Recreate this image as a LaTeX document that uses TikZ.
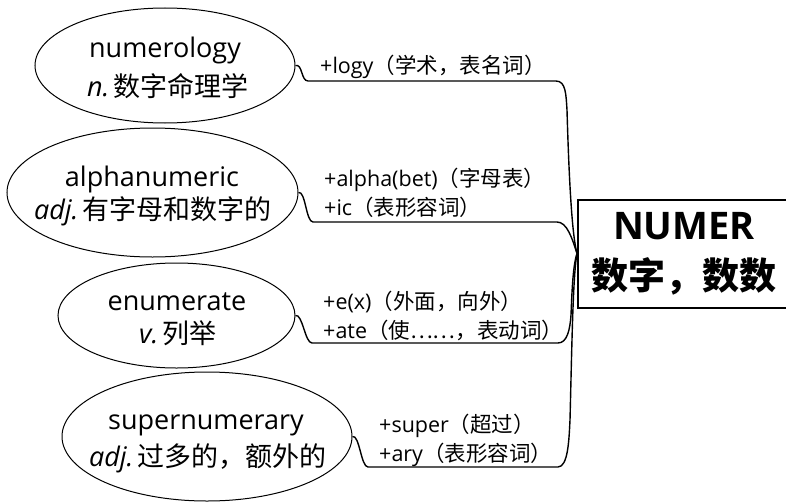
\documentclass[tikz,border=0pt]{standalone}
\usepackage{fontspec}
\setmainfont{Open Sans}
\newfontfamily\cjk{Noto Sans CJK SC}
\usetikzlibrary{shapes.geometric}
\begin{document}
\begin{tikzpicture}[x=1pt,y=-1pt,
  ell/.style={draw, ellipse, line width=1pt, inner sep=0pt},
  word/.style={inner sep=0pt, font=\fontsize{27}{27}\selectfont},
  mean/.style={inner sep=0pt, font=\fontsize{27}{27}\selectfont},
  lbl/.style={anchor=west, inner sep=0pt, font=\fontsize{21.5}{21.5}\selectfont},
  conn/.style={line width=1.4pt},
  rootbox/.style={draw, line width=2pt, anchor=west, align=center, inner sep=0pt,
    font=\fontsize{38}{53}\selectfont\bfseries}
]
\useasboundingbox (0,0) rectangle (786,503);

% ellipses
\node[ell, minimum width=260pt, minimum height=115pt] (e1) at (165,65.5) {};
\node[ell, minimum width=291pt, minimum height=129pt] (e2) at (152.5,192.5) {};
\node[ell, minimum width=237pt, minimum height=105pt] (e3) at (176.5,315.5) {};
\node[ell, minimum width=290pt, minimum height=129pt] (e4) at (207,436.5) {};

% ellipse texts
\node[word] (w1) at (165,50) {numerology};
\node[mean] (m1) at (168,86) {\textit{n.}\,{\cjk 数字命理学}};
\node[word] (w2) at (152,179) {alphanumeric};
\node[mean] (m2) at (153,211) {\textit{adj.}\,{\cjk 有字母和数字的}};
\node[word] (w3) at (177,302) {enumerate};
\node[mean] (m3) at (178,333) {\textit{v.}\,{\cjk 列举}};
\node[word] (w4) at (206,425) {supernumerary};
\node[mean] (m4) at (208,458) {\textit{adj.}\,{\cjk 过多的，额外的}};

% root box
\node[rootbox, minimum width=212pt, minimum height=108pt] (box) at (577,253.5)
  {\raisebox{-3pt}{NUMER}\\{\fontsize{37}{37}\selectfont\cjk\bfseries 数字，数数}};

% labels
\node[lbl] (l1) at (320,67) {+logy{\cjk（学术，表名词）}};
\node[lbl] (l2a) at (324,180) {+alpha(bet){\cjk（字母表）}};
\node[lbl] (l2b) at (324,207) {+ic{\cjk（表形容词）}};
\node[lbl] (l3a) at (323,302) {+e(x){\cjk（外面，向外）}};
\node[lbl] (l3b) at (323,330) {+ate{\cjk（使……，表动词）}};
\node[lbl] (l4a) at (379,426) {+super{\cjk（超过）}};
\node[lbl] (l4b) at (379,455) {+ary{\cjk（表形容词）}};

% connectors
\draw[conn] (e1.east) .. controls +(7,-2) and +(-7,0) .. (308,81) -- (556,81)
  .. controls (566,81) and (566,95) .. (567,110)
  .. controls (569,180) and (572,235) .. (box.west);
\draw[conn] (e2.east) .. controls +(7,-2) and +(-7,0) .. (313,222) -- (557,222)
  .. controls (567,222) and (572,238) .. (box.west);
\draw[conn] (e3.east) .. controls +(7,-2) and +(-7,0) .. (312,343) -- (558,343)
  .. controls (567,343) and (570,330) .. (571,315)
  .. controls (572,290) and (573,265) .. (box.west);
\draw[conn] (e4.east) .. controls +(7,-2) and +(-7,0) .. (368,467) -- (558,467)
  .. controls (568,467) and (569,440) .. (570,420)
  .. controls (572,340) and (573,275) .. (box.west);
\end{tikzpicture}
\end{document}
